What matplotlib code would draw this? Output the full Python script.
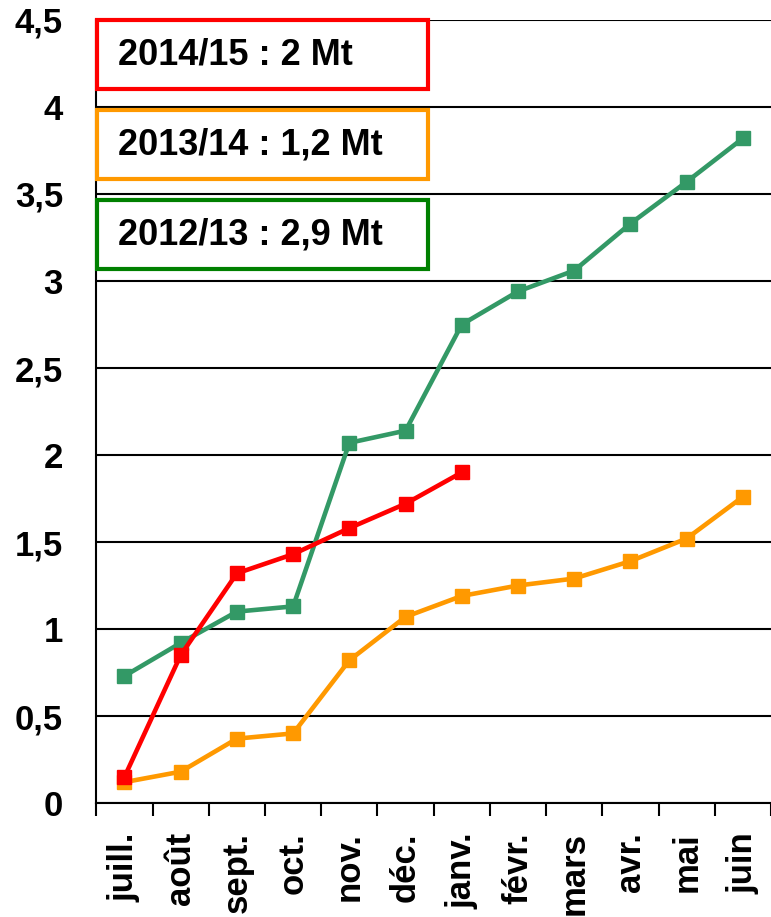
import matplotlib.pyplot as plt
import numpy as np

plt.rcParams['font.family'] = ['Liberation Sans', 'DejaVu Sans']
plt.rcParams['font.weight'] = 'bold'

mois = ['juill.', 'août', 'sept.', 'oct.', 'nov.', 'déc.', 'janv.',
        'févr.', 'mars', 'avr.', 'mai', 'juin']
c2012 = [0.73, 0.92, 1.10, 1.13, 2.07, 2.14, 2.75, 2.94, 3.06, 3.33, 3.57, 3.82]
c2013 = [0.12, 0.18, 0.37, 0.40, 0.82, 1.07, 1.19, 1.25, 1.29, 1.39, 1.52, 1.76]
c2014 = [0.15, 0.85, 1.32, 1.43, 1.58, 1.72, 1.90]
yticks = [0, 0.5, 1, 1.5, 2, 2.5, 3, 3.5, 4, 4.5]
ylabels = ['0', '0,5', '1', '1,5', '2', '2,5', '3', '3,5', '4', '4,5']
boites = ['2014/15 : 2 Mt', '2013/14 : 1,2 Mt', '2012/13 : 2,9 Mt']
couleurs_boites = ['#FF0000', '#FF9900', '#008000']

fig = plt.figure(figsize=(7.71, 9.17), dpi=100)
ax = fig.add_axes([0.125, 0.1243, 0.875, 0.8539])

x = np.arange(len(mois))
ax.plot(x, c2012, color='#339966', lw=3.3, marker='s', ms=10.5, zorder=3)
ax.plot(x, c2013, color='#FF9900', lw=3.3, marker='s', ms=10.5, zorder=3)
ax.plot(x[:len(c2014)], c2014, color='#FF0000', lw=3.3, marker='s', ms=10.5, zorder=4)

ax.set_xlim(-0.5, 11.5)
ax.set_ylim(0, 4.5)
ax.set_yticks(yticks)
ax.set_yticklabels(ylabels, fontsize=25, fontweight='bold')
ax.set_xticks(x)
ax.set_xticklabels(mois, rotation=90, fontsize=25, fontweight='bold')
ax.set_xticks(np.arange(-0.5, 12, 1), minor=True)
ax.tick_params(axis='x', which='major', length=0, pad=21)
ax.tick_params(axis='x', which='minor', length=9, width=1.5, direction='out')
ax.tick_params(axis='y', length=0, pad=24)
ax.grid(axis='y', color='black', lw=1.5)
ax.set_axisbelow(True)
for s in ['top', 'right']:
    ax.spines[s].set_visible(False)
ax.spines['left'].set_linewidth(1.5)
ax.spines['bottom'].set_linewidth(1.5)

# encadres des totaux
tops = [897, 807, 717]
for txt, col, t in zip(boites, couleurs_boites, tops):
    fig.patches.append(plt.Rectangle((97 / 771, (t - 69) / 917), 331 / 771, 69 / 917,
                                     transform=fig.transFigure, fill=True, fc='white',
                                     ec=col, lw=3, zorder=5))
    fig.text(118 / 771, (t - 35) / 917, txt, fontsize=26, fontweight='bold',
             va='center', ha='left', zorder=6)

plt.savefig('out.png', dpi=100)
plt.close()
